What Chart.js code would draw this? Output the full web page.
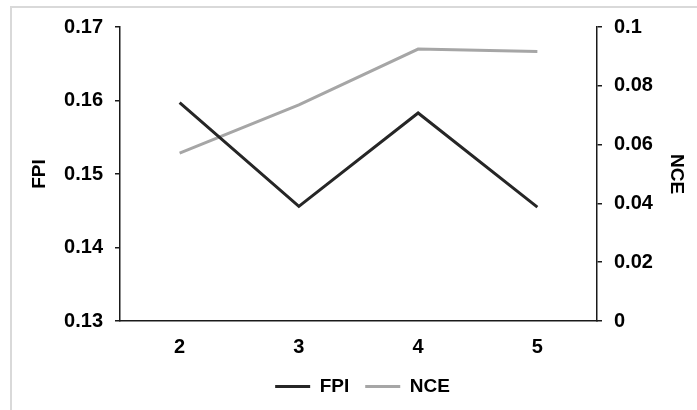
<!DOCTYPE html>
<html>
<head>
<meta charset="utf-8">
<script src="https://cdn.jsdelivr.net/npm/chart.js@4.4.0/dist/chart.umd.min.js"></script>
<style>
    html, body { margin: 0; padding: 0; background: #fff; }
</style>
</head>
<body>
<canvas id="myChart" width="697" height="410"></canvas>
<script>
const categories = ['2', '3', '4', '5'];
const fpiValues = [0.1597, 0.1456, 0.1583, 0.1455];
const nceValues = [0.0571, 0.0735, 0.0925, 0.0917];

const fpiRange = {min: 0.13, max: 0.17, step: 0.01};
const nceRange = {min: 0, max: 0.1, step: 0.02};

const family = '"Liberation Sans", Arial, sans-serif';
const tickFont = {family: family, size: 20, weight: 'bold'};
const textFont = {family: family, size: 19, weight: 'bold'};

// light grey frame around the whole chart, runs off the right and bottom edge
const frame = {
    id: 'frame',
    beforeDraw(chart) {
        const ctx = chart.ctx;
        ctx.save();
        ctx.strokeStyle = '#d9d9d9';
        ctx.lineWidth = 2;
        ctx.strokeRect(11, 7, 720, 440);
        ctx.restore();
    }
};

const ctx = document.getElementById('myChart').getContext('2d');

const myChart = new Chart(ctx, {
    type: 'line',
    data: {
        labels: categories,
        datasets: [{
            label: 'FPI',
            data: fpiValues,
            yAxisID: 'y',
            borderColor: '#262626',
            backgroundColor: '#262626',
            borderWidth: 3,
            pointRadius: 0,
            tension: 0
        }, {
            label: 'NCE',
            data: nceValues,
            yAxisID: 'y1',
            borderColor: '#a6a6a6',
            backgroundColor: '#a6a6a6',
            borderWidth: 3,
            pointRadius: 0,
            tension: 0
        }]
    },
    options: {
        responsive: false,
        animation: false,
        devicePixelRatio: 1,
        layout: {
            padding: {left: 28, right: 0, top: 27, bottom: 4}
        },
        plugins: {
            legend: {
                position: 'bottom',
                labels: {
                    usePointStyle: true,
                    pointStyle: 'line',
                    pointStyleWidth: 35,
                    padding: 16,
                    color: '#000',
                    font: textFont
                }
            },
            tooltip: {enabled: false}
        },
        scales: {
            x: {
                offset: true,
                grid: {display: false, drawTicks: false},
                border: {display: true, color: '#1a1a1a', width: 1.5},
                ticks: {color: '#000', font: tickFont, padding: 14},
                afterFit: (scale) => { scale.height = 40; }
            },
            y: {
                position: 'left',
                min: fpiRange.min,
                max: fpiRange.max,
                grid: {drawOnChartArea: false, tickLength: 5, color: '#1a1a1a', lineWidth: 1.5},
                border: {display: true, color: '#1a1a1a', width: 1.5},
                ticks: {
                    stepSize: fpiRange.step,
                    color: '#000',
                    font: tickFont,
                    padding: 12,
                    callback: (value) => +value.toFixed(2)
                },
                title: {display: true, text: 'FPI', color: '#000', font: textFont, padding: {top: 0, bottom: 0}},
                afterFit: (scale) => { scale.width = 92; }
            },
            y1: {
                position: 'right',
                min: nceRange.min,
                max: nceRange.max,
                grid: {drawOnChartArea: false, tickLength: 5, color: '#1a1a1a', lineWidth: 1.5},
                border: {display: true, color: '#1a1a1a', width: 1.5},
                ticks: {
                    stepSize: nceRange.step,
                    color: '#000',
                    font: tickFont,
                    padding: 12,
                    callback: (value) => +value.toFixed(2)
                },
                title: {display: true, text: 'NCE', color: '#000', font: textFont, padding: {top: 9, bottom: 0}},
                afterFit: (scale) => { scale.width = 100; }
            }
        }
    },
    plugins: [frame]
});
</script>
</body>
</html>
